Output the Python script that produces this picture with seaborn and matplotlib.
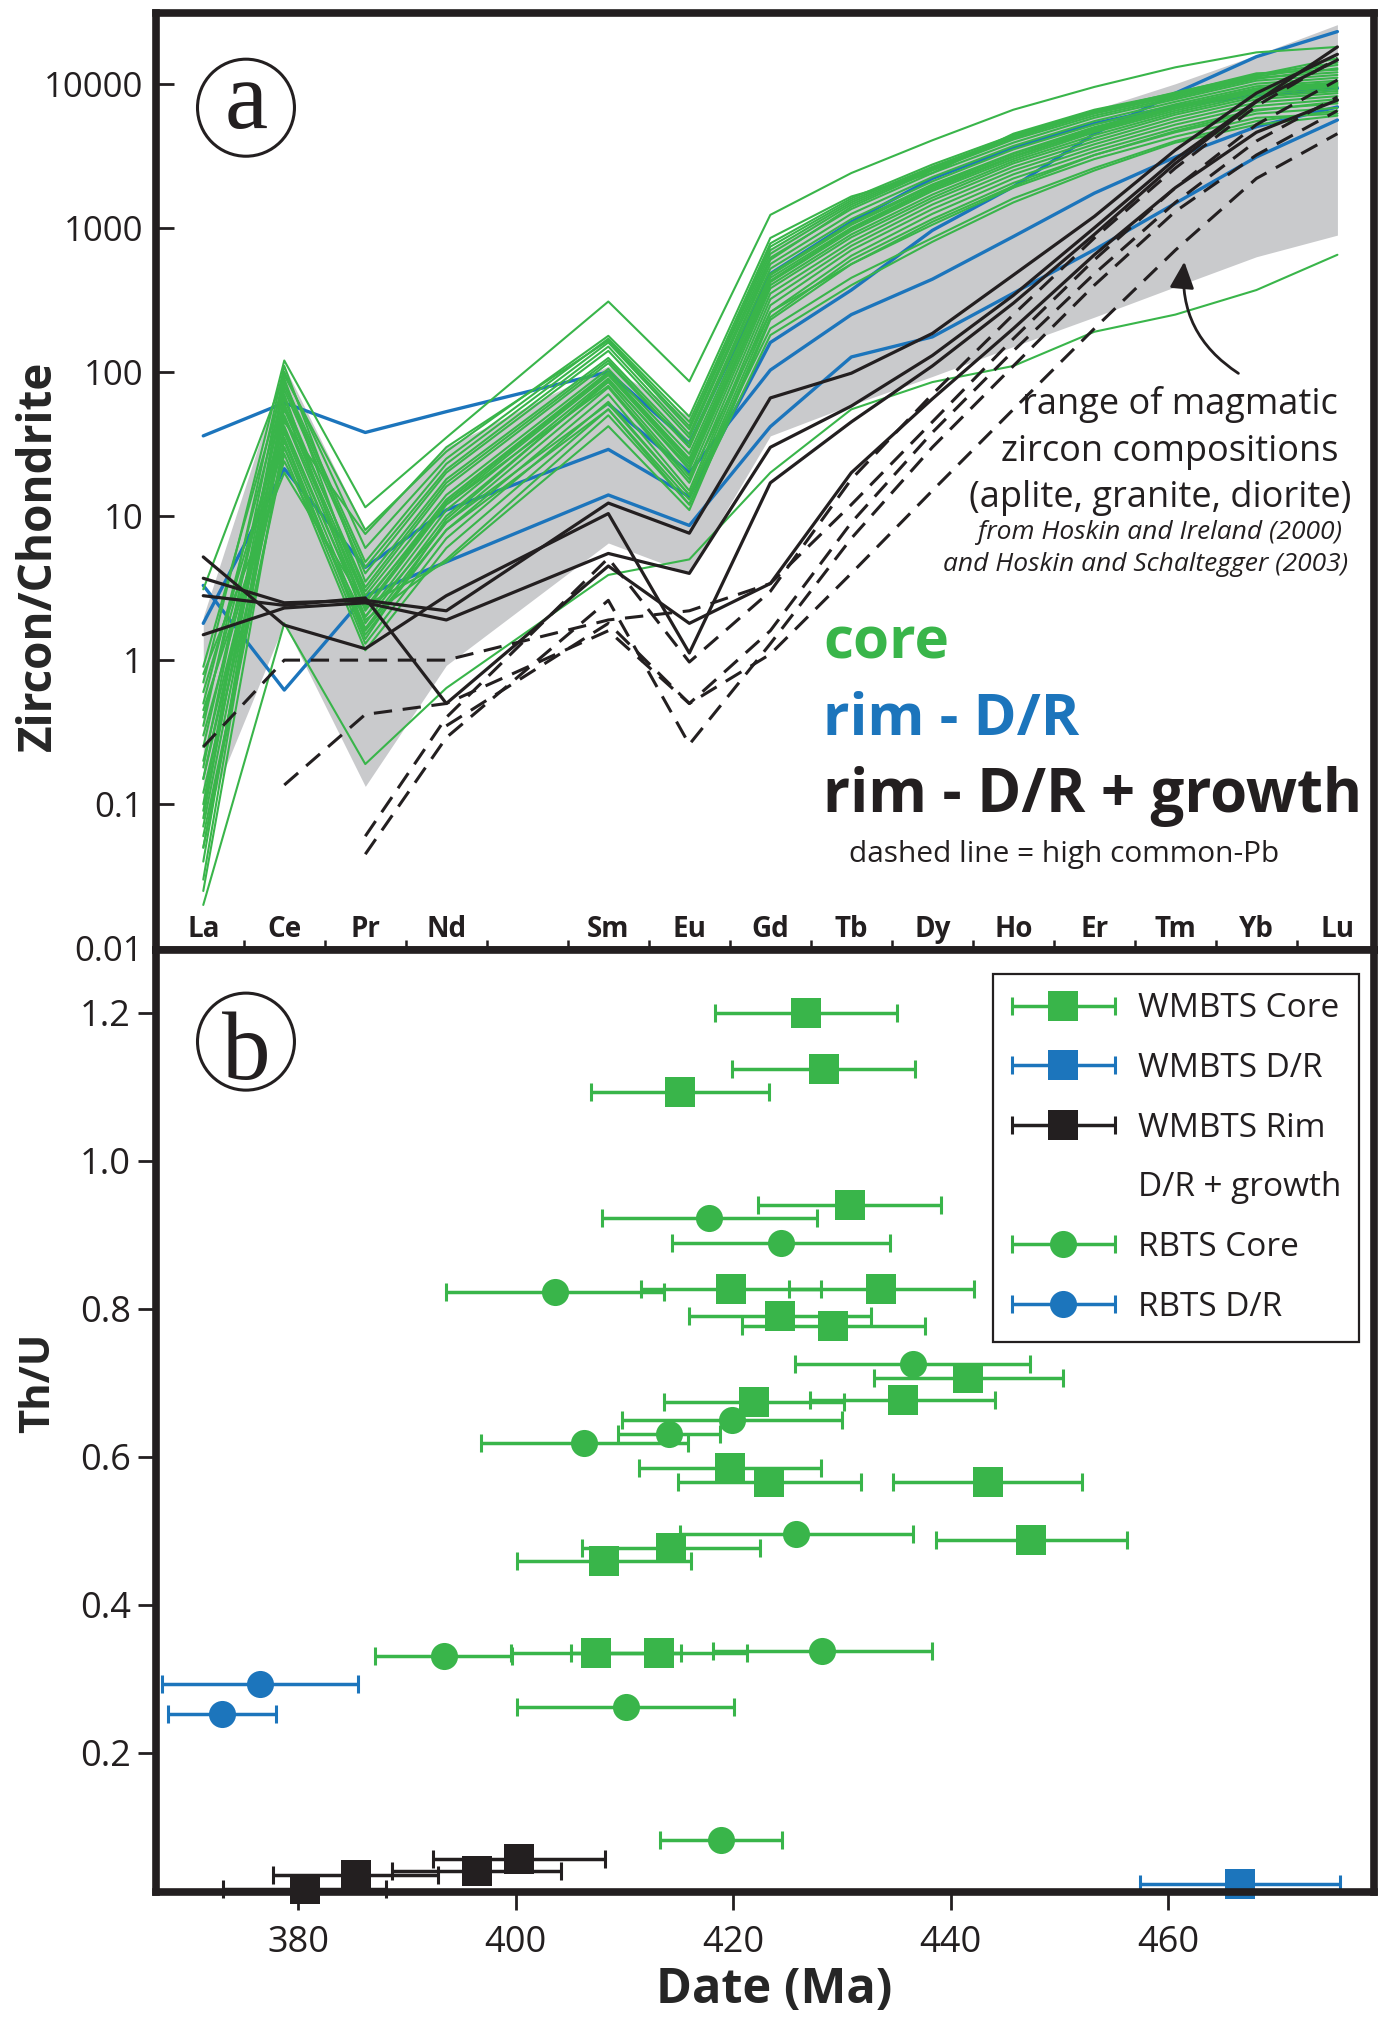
import numpy as np
import pandas as pd
import matplotlib
matplotlib.use("Agg")
import matplotlib.pyplot as plt
import seaborn as sns
from matplotlib.patches import Ellipse
from matplotlib.ticker import NullLocator
from matplotlib.container import ErrorbarContainer
from matplotlib.legend_handler import HandlerErrorbar

# --- panel (a): chondrite-normalised REE patterns ---
ELEMENTS = ["La", "Ce", "Pr", "Nd", "Sm", "Eu", "Gd", "Tb", "Dy", "Ho", "Er", "Tm", "Yb", "Lu"]
ELEMENT_POS = [0, 1, 2, 3, 5, 6, 7, 8, 9, 10, 11, 12, 13, 14]  # Pm slot (4) stays empty

# range of magmatic zircon (Hoskin & Ireland 2000, Hoskin & Schaltegger 2003)
RANGE_LOW = [0.076, 1.8, 0.133, 0.92, 6.5, 4.0, 36, 59, 93, 150, 240, 390, 630, 890]
RANGE_HIGH = [2.0, 110, 8.0, 30, 110, 49, 700, 1600, 2800, 4500, 6600, 10000, 15800, 25700]

nan = np.nan
CORE = [
    [0.7, 120, 11.5, 35, 308, 86, 1230, 2400, 4050, 6600, 9500, 13000, 16500, 18000],
    [0.02, 1.8, 0.19, 0.64, 3.9, 5.0, 20, 55, 85, 110, 190, 250, 370, 650],
    [3.1, 95, 8.0, 28, 178, 49, 850, 1650, 2400, 4500, 6600, 8600, 11800, 12500],
    [0.9, 85, 4.8, 23, 160, 40, 700, 1500, 2600, 4200, 6200, 8200, 11000, 12000],
    [0.5, 75, 4.0, 20, 140, 35, 620, 1350, 2400, 3900, 5800, 7800, 10500, 11500],
    [0.35, 110, 3.5, 18, 125, 32, 560, 1250, 2250, 3700, 5500, 7500, 10000, 11000],
    [0.25, 65, 3.0, 16, 115, 30, 520, 1150, 2100, 3500, 5200, 7200, 9600, 10500],
    [0.15, 55, 2.8, 14, 105, 27, 480, 1080, 2000, 3300, 5000, 7000, 9300, 10200],
    [0.1, 90, 2.5, 13, 100, 25, 450, 1000, 1900, 3150, 4800, 6800, 9000, 9800],
    [0.07, 48, 2.2, 12, 95, 23, 420, 950, 1800, 3000, 4600, 6500, 8700, 9500],
    [0.05, 42, 2.0, 11, 90, 21, 400, 900, 1700, 2900, 4400, 6300, 8400, 9200],
    [0.04, 70, 1.8, 10, 85, 19, 380, 860, 1620, 2800, 4200, 6100, 8100, 8900],
    [0.2, 38, 1.66, 9, 78, 17, 350, 800, 1550, 2650, 4000, 5800, 7800, 8600],
    [0.3, 33, 1.5, 8, 70, 15, 320, 750, 1450, 2500, 3800, 5500, 7400, 8200],
    [0.12, 30, 1.3, 7, 62, 14, 290, 700, 1350, 2350, 3600, 5200, 7000, 7800],
    [0.06, 27, 1.17, 6, 55, 13, 260, 640, 1250, 2200, 3400, 4900, 6600, 7300],
    [0.45, 24, 1.9, 5, 50, 12, 240, 600, 1150, 2050, 3200, 4600, 6200, 6800],
    [0.8, 20, 2.4, 4.8, 42, 11, 230, 560, 1050, 1900, 3000, 4300, 5800, 6200],
    [0.03, 60, 3.2, 17, 120, 30, 600, 1400, 2500, 4100, 6000, 8000, 10800, 12800],
    [0.08, 80, 4.4, 21, 150, 37, 660, 1450, 2550, 4250, 6300, 8400, 11200, 13500],
    [0.18, 100, 6.0, 25, 170, 45, 780, 1600, 2750, 4400, 6500, 8500, 11500, 15000],
    [0.6, 45, 7.5, 30, 165, 42, 740, 1550, 2650, 4300, 6400, 8700, 11500, 14000],
    [0.025, 35, 1.4, 9.5, 88, 22, 430, 980, 1850, 3100, 4700, 6700, 8900, 9600],
    [0.09, 58, 2.3, 12.5, 98, 24, 470, 1050, 1950, 3250, 4900, 6900, 9100, 10000],
    [0.15, 40, 2.0, 9, 60, 14, 200, 450, 850, 1600, 2600, 4000, 5500, 6500],
    [0.05, 30, 1.6, 8, 55, 12, 180, 400, 800, 1500, 2500, 3900, 5200, 6000],
    [0.4, 50, 2.6, 12, 80, 18, 260, 560, 1100, 1950, 3200, 4700, 6500, 7500],
]
RIM_DR = [
    [36, 61, 38, 53, 100, 32, 480, 1100, 2200, 3600, 5300, 7000, 8300, 9300],
    [1.8, 21.3, 4.4, 11, 29, 13.6, 160, 370, 960, 1930, 4500, 8600, 15400, 23000],
    [3.3, 0.62, 2.8, 4.8, 14, 8.6, 41.7, 127, 175, 352, 705, 1480, 3100, 5600],
    [nan, nan, nan, nan, 60, 20, 103, 250, 440, 870, 1740, 3100, 5030, 6900],
]
RIM_GROWTH = [
    [5.2, 1.75, 1.2, 2.8, 10.4, 1.12, 17, 45, 110, 300, 900, 2800, 7500, 18000],
    [3.7, 2.5, 2.6, 2.2, 12.3, 7.6, 66, 98, 185, 470, 1200, 3470, 8600, 16000],
    [1.5, 2.3, 2.5, 1.9, 5.5, 4.0, 30, 58, 130, 340, 1000, 3000, 7600, 14600],
    [2.8, 2.4, 2.7, 0.5, 4.5, 1.8, 3.4, 20, 65, 200, 650, 1900, 4600, 7700],
]
RIM_GROWTH_HIGH_PB = [
    [0.25, 1.0, 1.0, 1.0, 1.9, 2.2, 3.4, 12, 45, 170, 600, 1900, 5200, 10600],
    [nan, 0.136, 0.42, 0.5, 1.6, 0.5, 1.6, 9, 38, 140, 480, 1500, 4000, 8100],
    [nan, nan, 0.06, 0.4, 5.1, 0.97, 3.0, 18, 70, 250, 850, 2600, 7000, 15000],
    [nan, nan, 0.045, 0.29, 2.6, 0.26, 1.3, 7, 30, 110, 400, 1300, 3200, 6500],
    [nan, nan, nan, 0.35, 1.8, 0.5, 1.1, 4, 15, 55, 200, 700, 2200, 4500],
]
Y_TICKS_A = [0.01, 0.1, 1, 10, 100, 1000, 10000]
Y_TICKLABELS_A = ["0.01", "0.1", "1", "10", "100", "1000", "10000"]

# --- panel (b): Th/U vs date, 2 sigma ---
WMBTS_CORE_AGE = [426.7, 428.3, 415.1, 430.7, 419.8, 433.6, 424.3, 429.2, 441.6, 421.9,
                  435.6, 419.7, 423.3, 443.4, 447.4, 414.3, 408.1, 407.4, 413.2]
WMBTS_CORE_THU = [1.200, 1.123, 1.093, 0.940, 0.826, 0.827, 0.790, 0.776, 0.706, 0.674,
                  0.676, 0.585, 0.566, 0.566, 0.487, 0.476, 0.459, 0.335, 0.335]
WMBTS_CORE_ERR = [8.4, 8.4, 8.2, 8.4, 8.3, 8.5, 8.4, 8.4, 8.7, 8.3,
                  8.5, 8.4, 8.4, 8.7, 8.8, 8.2, 8.0, 7.8, 8.1]
WMBTS_DR_AGE = [466.6]
WMBTS_DR_THU = [0.023]
WMBTS_DR_ERR = [9.2]
WMBTS_RIM_AGE = [380.6, 385.3, 396.4, 400.3]
WMBTS_RIM_THU = [0.015, 0.035, 0.040, 0.056]
WMBTS_RIM_ERR = [7.5, 7.6, 7.8, 7.9]
RBTS_CORE_AGE = [417.8, 424.4, 403.6, 436.5, 419.9, 414.1, 406.3, 425.8, 393.4, 428.2, 410.1, 418.9]
RBTS_CORE_THU = [0.922, 0.889, 0.823, 0.725, 0.649, 0.631, 0.618, 0.496, 0.331, 0.337, 0.261, 0.082]
RBTS_CORE_ERR = [9.9, 10.0, 10.0, 10.8, 10.1, 4.7, 9.5, 10.7, 6.3, 10.1, 10.0, 5.6]
RBTS_DR_AGE = [376.5, 373.0]
RBTS_DR_THU = [0.292, 0.252]
RBTS_DR_ERR = [9.0, 5.0]
X_TICKS_B = [380, 400, 420, 440, 460]
Y_TICKS_B = [0.2, 0.4, 0.6, 0.8, 1.0, 1.2]

GREEN = "#39b54a"
BLUE = "#1c75bc"
BLACK = "#231f20"
GREY = "#c9cacc"

sns.set_theme(style="ticks")
plt.rcParams["font.family"] = ["Open Sans", "DejaVu Sans"]
plt.rcParams["text.color"] = BLACK


def to_long(lines, tag):
    rows = []
    for i, vals in enumerate(lines):
        for pos, el, v in zip(ELEMENT_POS, ELEMENTS, vals):
            if not np.isnan(v):
                rows.append({"sample": f"{tag}{i}", "pos": pos, "element": el, "value": v})
    return pd.DataFrame(rows)


fig = plt.figure(figsize=(13.78, 20.17), dpi=100)
ax_a = fig.add_axes([0.113, 0.5292, 0.884, 0.4644])
ax_b = fig.add_axes([0.113, 0.0622, 0.884, 0.4670])

# ---------------- panel a ----------------
ax_a.set_yscale("log")
ax_a.fill_between(ELEMENT_POS, RANGE_LOW, RANGE_HIGH, color=GREY, lw=0, zorder=1)

layers = [
    (RIM_DR, "dr", BLUE, 2.4, "-", 2),
    (CORE, "core", GREEN, 1.5, "-", 3),
    (RIM_GROWTH_HIGH_PB, "hpb", BLACK, 2.2, (0, (6, 3.5)), 4),
    (RIM_GROWTH, "rim", BLACK, 2.3, "-", 5),
]
for lines, tag, col, lw, ls, z in layers:
    sns.lineplot(data=to_long(lines, tag), x="pos", y="value", units="sample",
                 estimator=None, color=col, lw=lw, linestyle=ls, zorder=z,
                 legend=False, ax=ax_a)

ax_a.set_xlim(-0.587, 14.45)
ax_a.set_ylim(0.0098, 31000)
ax_a.set_yticks(Y_TICKS_A)
ax_a.set_yticklabels(Y_TICKLABELS_A)
ax_a.yaxis.set_minor_locator(NullLocator())
ax_a.tick_params(axis="y", which="major", direction="in", length=13, width=2,
                 labelsize=25, pad=9, color=BLACK, labelcolor=BLACK)
ax_a.set_xticks(ELEMENT_POS)
ax_a.set_xticklabels(ELEMENTS, fontweight="bold", fontsize=20)
ax_a.set_xticks([p + 0.5 for p in range(14)], minor=True)
ax_a.tick_params(axis="x", which="major", length=0, pad=-25, labelcolor=BLACK)
ax_a.tick_params(axis="x", which="minor", direction="in", length=7, width=1.8,
                 bottom=True, color=BLACK)
ax_a.set_xlabel("")
ax_a.set_ylabel("Zircon/Chondrite", fontsize=33, fontweight="bold", va="center")
ax_a.yaxis.set_label_coords(-0.0961, 0.4203)

ax_a.add_patch(Ellipse((0.0741, 0.8988), 0.0796, 0.1036, transform=ax_a.transAxes,
                       fill=False, ec=BLACK, lw=2.2, zorder=6))
ax_a.text(0.0745, 0.877, "a", transform=ax_a.transAxes, ha="center", va="baseline",
          fontsize=70, family="Liberation Serif", zorder=6)

ax_a.text(0.9707, 0.5715, "range of magmatic", transform=ax_a.transAxes,
          ha="right", va="baseline", fontsize=26, zorder=7)
ax_a.text(0.9707, 0.522, "zircon compositions", transform=ax_a.transAxes,
          ha="right", va="baseline", fontsize=26, zorder=7)
ax_a.text(0.9813, 0.4725, "(aplite, granite, diorite)", transform=ax_a.transAxes,
          ha="right", va="baseline", fontsize=26, zorder=7)
ax_a.text(0.974, 0.4383, "from Hoskin and Ireland (2000)", transform=ax_a.transAxes,
          ha="right", va="baseline", fontsize=19, style="italic", zorder=7)
ax_a.text(0.979, 0.4039, "and Hoskin and Schaltegger (2003)", transform=ax_a.transAxes,
          ha="right", va="baseline", fontsize=19, style="italic", zorder=7)
ax_a.annotate("", xy=(0.8444, 0.7344), xytext=(0.8888, 0.6152),
              xycoords="axes fraction", textcoords="axes fraction",
              arrowprops=dict(arrowstyle="-|>,head_length=0.65,head_width=0.3",
                              connectionstyle="arc3,rad=-0.3", lw=2, color=BLACK,
                              mutation_scale=25, shrinkA=0, shrinkB=0), zorder=7)

ax_a.text(0.548, 0.3105, "core", transform=ax_a.transAxes, color=GREEN,
          fontsize=42, fontweight="bold", va="baseline", zorder=7)
ax_a.text(0.548, 0.2294, "rim - D/R", transform=ax_a.transAxes, color=BLUE,
          fontsize=42, fontweight="bold", va="baseline", zorder=7)
ax_a.text(0.548, 0.147, "rim - D/R + growth", transform=ax_a.transAxes, color=BLACK,
          fontsize=43, fontweight="bold", va="baseline", zorder=7)
ax_a.text(0.569, 0.0934, "dashed line = high common-Pb", transform=ax_a.transAxes,
          color=BLACK, fontsize=21.5, va="baseline", zorder=7)

# ---------------- panel b ----------------
err_kw = dict(elinewidth=2.5, capsize=6.5, capthick=2.2, ls="none")
series = [
    (WMBTS_CORE_AGE, WMBTS_CORE_THU, WMBTS_CORE_ERR, GREEN, "s", 21, "WMBTS Core"),
    (WMBTS_DR_AGE, WMBTS_DR_THU, WMBTS_DR_ERR, BLUE, "s", 21, "WMBTS D/R"),
    (WMBTS_RIM_AGE, WMBTS_RIM_THU, WMBTS_RIM_ERR, BLACK, "s", 21, "WMBTS Rim"),
    (RBTS_CORE_AGE, RBTS_CORE_THU, RBTS_CORE_ERR, GREEN, "o", 19.5, "RBTS Core"),
    (RBTS_DR_AGE, RBTS_DR_THU, RBTS_DR_ERR, BLUE, "o", 19.5, "RBTS D/R"),
]
handles = {}
for age, thu, err, col, mk, ms, lab in series:
    cont = ax_b.errorbar(age, thu, xerr=err, fmt=mk, ms=ms, color=col,
                         label=lab, zorder=4, **err_kw)
    cont[0].set_markeredgewidth(0)
    for art in [cont[0], *cont[1], *cont[2]]:
        art.set_clip_on(False)
    handles[lab] = cont

blank = plt.Line2D([], [], linestyle="none", marker=None)
leg = ax_b.legend([handles["WMBTS Core"], handles["WMBTS D/R"], handles["WMBTS Rim"], blank,
                   handles["RBTS Core"], handles["RBTS D/R"]],
                  ["WMBTS Core", "WMBTS D/R", "WMBTS Rim", "D/R + growth",
                   "RBTS Core", "RBTS D/R"],
                  handler_map={ErrorbarContainer: HandlerErrorbar(xerr_size=1.55)},
                  loc="upper right", bbox_to_anchor=(0.988, 0.974), borderaxespad=0,
                  fontsize=24, frameon=True, fancybox=False, framealpha=1,
                  edgecolor=BLACK, handlelength=3.15, handletextpad=0.65,
                  borderpad=0.55, labelspacing=0.8)
leg.get_frame().set_linewidth(1.6)

ax_b.set_xlim(366.9, 478.9)
ax_b.set_ylim(0.0122, 1.285)
ax_b.set_xticks(X_TICKS_B)
ax_b.set_yticks(Y_TICKS_B)
ax_b.set_yticklabels([f"{v:.1f}" for v in Y_TICKS_B])
ax_b.tick_params(axis="both", which="major", direction="out", length=13, width=2,
                 labelsize=26, color=BLACK, labelcolor=BLACK)
ax_b.tick_params(axis="x", pad=11)
ax_b.tick_params(axis="y", pad=5)
ax_b.set_xlabel("Date (Ma)", fontsize=35, fontweight="bold")
ax_b.xaxis.set_label_coords(0.508, -0.079)
ax_b.set_ylabel("Th/U", fontsize=30, fontweight="bold", va="center")
ax_b.yaxis.set_label_coords(-0.0961, 0.5397)

ax_b.add_patch(Ellipse((0.0741, 0.9023), 0.0796, 0.1030, transform=ax_b.transAxes,
                       fill=False, ec=BLACK, lw=2.2, zorder=6))
ax_b.text(0.0745, 0.8625, "b", transform=ax_b.transAxes, ha="center", va="baseline",
          fontsize=70, family="Liberation Serif", zorder=6)

for ax in (ax_a, ax_b):
    for sp in ax.spines.values():
        sp.set_visible(True)
        sp.set_linewidth(5.5)
        sp.set_color(BLACK)
        sp.set_zorder(8)

fig.savefig("out.png", dpi=100, facecolor="white")
